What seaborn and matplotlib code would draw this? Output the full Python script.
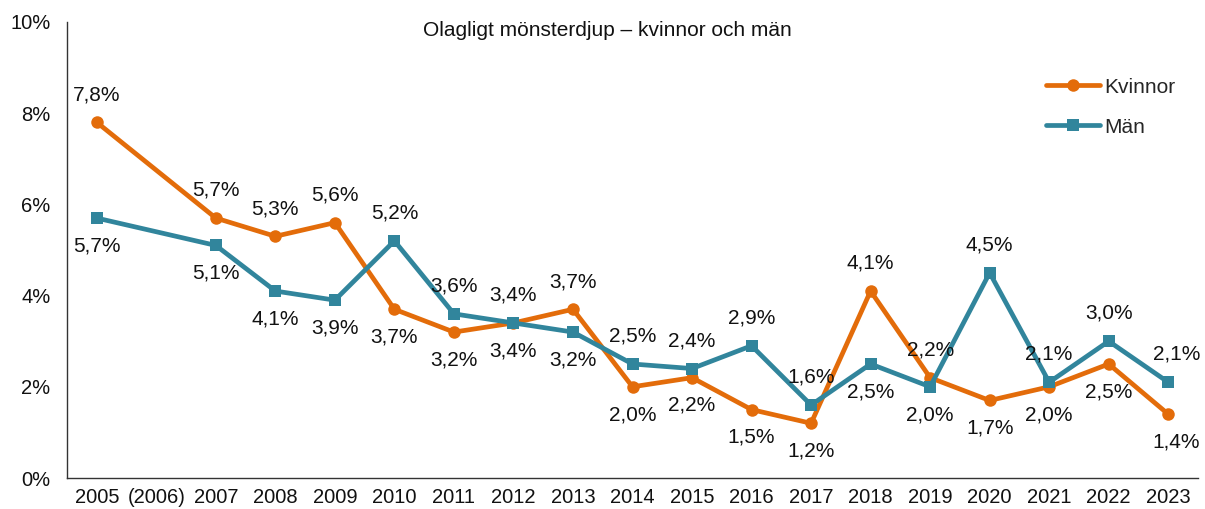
import matplotlib

matplotlib.use("Agg")
import matplotlib.pyplot as plt
import pandas as pd
import seaborn as sns

# x categories (2006 has no data)
categories = ["2005", "(2006)", "2007", "2008", "2009", "2010", "2011", "2012", "2013",
              "2014", "2015", "2016", "2017", "2018", "2019", "2020", "2021", "2022", "2023"]
data_years = ["2005", "2007", "2008", "2009", "2010", "2011", "2012", "2013", "2014",
              "2015", "2016", "2017", "2018", "2019", "2020", "2021", "2022", "2023"]

kvinnor = [7.8, 5.7, 5.3, 5.6, 3.7, 3.2, 3.4, 3.7, 2.0, 2.2, 1.5, 1.2, 4.1, 2.2, 1.7, 2.0, 2.5, 1.4]
man = [5.7, 5.1, 4.1, 3.9, 5.2, 3.6, 3.4, 3.2, 2.5, 2.4, 2.9, 1.6, 2.5, 2.0, 4.5, 2.1, 3.0, 2.1]

# label above (+1) or below (-1) the point
kvinnor_pos = [1, 1, 1, 1, -1, -1, -1, 1, -1, -1, -1, -1, 1, 1, -1, -1, -1, -1]
man_pos = [-1, -1, -1, -1, 1, 1, 1, -1, 1, 1, 1, 1, -1, -1, 1, 1, 1, 1]

title = "Olagligt mönsterdjup – kvinnor och män"
colors = {"Kvinnor": "#E36C0A", "Män": "#31859C"}

df = pd.concat([
    pd.DataFrame({"year": data_years, "value": kvinnor, "kon": "Kvinnor"}),
    pd.DataFrame({"year": data_years, "value": man, "kon": "Män"}),
])
df["x"] = df["year"].map({c: i for i, c in enumerate(categories)})

sns.set_style("white")
plt.rcParams["font.family"] = ["Liberation Sans", "DejaVu Sans"]

fig = plt.figure(figsize=(12.05, 5.09), dpi=100)
ax = fig.add_axes([67 / 1205, 31 / 509, (1198 - 67) / 1205, (478 - 22) / 509])

sns.lineplot(
    data=df,
    x="x",
    y="value",
    hue="kon",
    style="kon",
    markers={"Kvinnor": "o", "Män": "s"},
    dashes=False,
    palette=colors,
    linewidth=3.4,
    markersize=9,
    markeredgewidth=0,
    ax=ax,
)

for series, positions in [(kvinnor, kvinnor_pos), (man, man_pos)]:
    for yr, v, p in zip(data_years, series, positions):
        xi = categories.index(yr)
        dx = 6 if yr == "2023" else 0
        ax.annotate(
            f"{v:.1f}%".replace(".", ","),
            (xi, v),
            xytext=(dx, 20 * p),
            textcoords="offset points",
            ha="center",
            va="center",
            fontsize=15,
            color="#111111",
        )

ax.set_xlim(-0.5, len(categories) - 0.5)
ax.set_ylim(0, 10)
ax.set_xticks(range(len(categories)))
ax.set_xticklabels(categories)
ax.set_yticks([0, 2, 4, 6, 8, 10])
ax.set_yticklabels([f"{t}%" for t in [0, 2, 4, 6, 8, 10]])
ax.tick_params(axis="both", length=0, labelsize=14.5, colors="#111111")
ax.tick_params(axis="y", pad=12)
ax.tick_params(axis="x", pad=7)
ax.set_xlabel("")
ax.set_ylabel("")
sns.despine(ax=ax)
for s in ["left", "bottom"]:
    ax.spines[s].set_color("#333333")
    ax.spines[s].set_linewidth(1)

leg = ax.legend(
    loc="upper left",
    frameon=False,
    fontsize=15,
    handlelength=2.6,
    labelspacing=1.0,
    handletextpad=0.2,
)
leg.set_bbox_to_anchor((1027 / 1205, 1 - 59 / 509), transform=fig.transFigure)

fig.text(607 / 1205, 1 - 30 / 509, title, ha="center", va="center", fontsize=15, color="#111111")

fig.savefig("out.png", dpi=100)
